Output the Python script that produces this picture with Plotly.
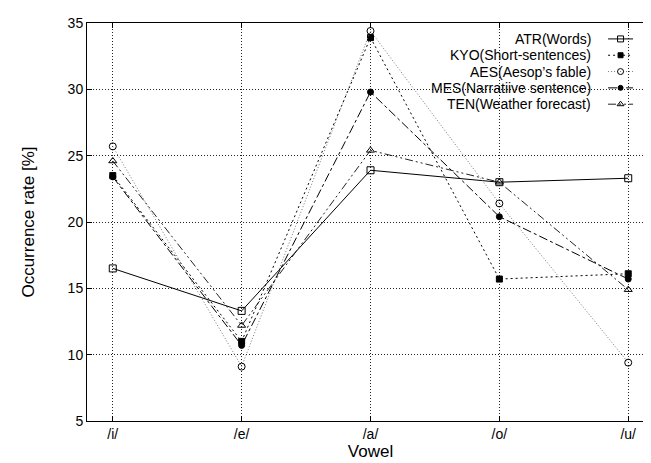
import plotly.graph_objects as go

vowels = ["/i/", "/e/", "/a/", "/o/", "/u/"]
atr = [16.5, 13.3, 23.9, 23.0, 23.3]
kyo = [23.5, 11.0, 33.9, 15.7, 16.1]
aes = [25.7, 9.1, 34.4, 21.4, 9.4]
mes = [23.4, 10.7, 29.8, 20.4, 15.7]
ten = [24.6, 12.2, 25.4, 23.0, 14.9]
names = ["ATR(Words)", "KYO(Short-sentences)", "AES(Aesop’s fable)",
         "MES(Narratiive sentence)", "TEN(Weather forecast)"]
y_ticks = [5, 10, 15, 20, 25, 30, 35]

styles = [
    dict(color="black", dash="solid", symbol="square-open", size=7),
    dict(color="black", dash="2px,3px", symbol="square", size=6),
    dict(color="#777777", dash="1px,2px", symbol="circle-open", size=7),
    dict(color="black", dash="dashdot", symbol="circle", size=6),
    dict(color="#222222", dash="8px,3px,2px,3px,2px,3px", symbol="triangle-up-open", size=7),
]
series = [atr, kyo, aes, mes, ten]
xidx = list(range(len(vowels)))

fig = go.Figure()
for vals, st, nm in zip(series, styles, names):
    fig.add_trace(go.Scatter(
        x=xidx, y=vals, mode="lines+markers", name=nm, showlegend=False,
        line=dict(color=st["color"], dash=st["dash"], width=1),
        marker=dict(symbol=st["symbol"], size=st["size"], color="black",
                    line=dict(color="black", width=1)),
        xaxis="x", yaxis="y"))

# custom gnuplot-style key (text on the left, sample on the right)
row_y = [0.960, 0.919, 0.878, 0.837, 0.796]
for st, nm, ry in zip(styles, names, row_y):
    fig.add_trace(go.Scatter(
        x=[0.919, 0.963], y=[ry, ry], mode="lines", showlegend=False,
        line=dict(color=st["color"], dash=st["dash"], width=1),
        xaxis="x2", yaxis="y2", hoverinfo="skip"))
    fig.add_trace(go.Scatter(
        x=[0.941], y=[ry], mode="markers", showlegend=False,
        marker=dict(symbol=st["symbol"], size=st["size"] - 1, color="black",
                    line=dict(color="black", width=1)),
        xaxis="x2", yaxis="y2", hoverinfo="skip"))
    fig.add_annotation(x=0.893, y=ry, xref="paper", yref="paper", text=nm,
                       showarrow=False, xanchor="right", yanchor="middle",
                       font=dict(size=14, color="black"))

fig.add_shape(type="rect", xref="paper", yref="paper", x0=0.475, x1=0.999,
              y0=0.772, y1=0.998, fillcolor="white", line=dict(width=0),
              layer="between")

fig.update_layout(
    width=651, height=463,
    margin=dict(l=79, r=5, t=15, b=50),
    paper_bgcolor="white", plot_bgcolor="white",
    font=dict(family="Liberation Sans, Arial, sans-serif", size=14, color="black"),
    xaxis=dict(range=[-0.2, 4.2], tickvals=xidx, ticktext=vowels,
               showline=True, linecolor="black", linewidth=1, mirror="ticks",
               ticks="inside", ticklen=5, tickcolor="black",
               showgrid=True, gridcolor="#222222", gridwidth=1, griddash="1px,2px",
               zeroline=False, title=dict(text="Vowel", standoff=0)),
    yaxis=dict(range=[5, 35], tickvals=y_ticks,
               showline=True, linecolor="black", linewidth=1, mirror="ticks",
               ticks="inside", ticklen=5, tickcolor="black",
               showgrid=True, gridcolor="#222222", gridwidth=1, griddash="1px,2px",
               zeroline=False, title=dict(text="Occurrence rate [%]", standoff=28)),
    xaxis2=dict(range=[0, 1], overlaying="x", visible=False, fixedrange=True),
    yaxis2=dict(range=[0, 1], overlaying="y", visible=False, fixedrange=True),
)

fig.write_html("out.html")
